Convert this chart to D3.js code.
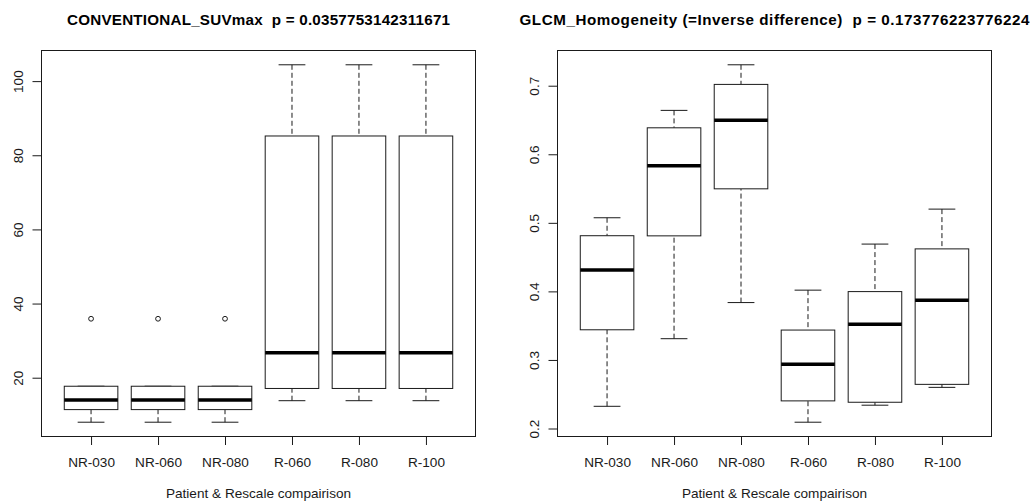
<!DOCTYPE html>
<html>
<head>
<meta charset="utf-8">
<script src="https://cdn.jsdelivr.net/npm/d3@7"></script>
<style>
  html, body { margin: 0; padding: 0; background: #fff; }
  svg { display: block; font-family: "Liberation Sans", Arial, sans-serif; }
  text.title { white-space: pre; }
</style>
</head>
<body>
<svg id="chart" width="1032" height="502"></svg>
<script>
// Groups compared in both panels
const categories = ["NR-030", "NR-060", "NR-080", "R-060", "R-080", "R-100"];

// CONVENTIONAL_SUVmax: whisker ends, quartiles, medians, outliers
const suvLow    = [8.0, 8.0, 8.0, 13.8, 13.8, 13.8];
const suvQ1     = [11.4, 11.4, 11.4, 17.1, 17.1, 17.1];
const suvMedian = [14.0, 14.0, 14.0, 26.7, 26.7, 26.7];
const suvQ3     = [17.7, 17.7, 17.7, 85.2, 85.2, 85.2];
const suvHigh   = [17.7, 17.7, 17.7, 104.4, 104.4, 104.4];
const suvOutliers = [[35.9], [35.9], [35.9], [], [], []];
const suvTicks  = [20, 40, 60, 80, 100];

// GLCM_Homogeneity: whisker ends, quartiles, medians
const glcmLow    = [0.2324, 0.331, 0.3837, 0.2092, 0.234, 0.260];
const glcmQ1     = [0.344, 0.481, 0.5496, 0.2403, 0.2383, 0.2644];
const glcmMedian = [0.4313, 0.5831, 0.6495, 0.2936, 0.3522, 0.3872];
const glcmQ3     = [0.4812, 0.6386, 0.7019, 0.3436, 0.3997, 0.462];
const glcmHigh   = [0.5074, 0.664, 0.7305, 0.4018, 0.469, 0.520];
const glcmOutliers = [[], [], [], [], [], []];
const glcmTicks  = [0.2, 0.3, 0.4, 0.5, 0.6, 0.7];

const suvTitle  = "CONVENTIONAL_SUVmax  p = 0.0357753142311671";
const glcmTitle = "GLCM_Homogeneity (=Inverse difference)  p = 0.173776223776224";
const xTitle    = "Patient & Rescale compairison";

const svg = d3.select("#chart");
const panelWidth = 516;
const plotLeft = 41.5, plotRight = 475.5, plotTop = 50.5, plotBottom = 436.5;
const ink = "#1a1a1a";

function drawPanel(offsetX, low, q1, med, q3, high, outliers, ticks, title, titleWidth, fmt) {
  const g = svg.append("g").attr("transform", `translate(${offsetX},0)`);

  // padded ranges, 4% beyond the data on each side
  const all = low.concat(high, outliers.flat());
  const lo = d3.min(all), hi = d3.max(all), pad = (hi - lo) * 0.04;
  const y = d3.scaleLinear().domain([lo - pad, hi + pad]).range([plotBottom, plotTop]);
  const xPad = categories.length * 0.04;
  const x = d3.scaleLinear().domain([0.5 - xPad, categories.length + 0.5 + xPad]).range([plotLeft, plotRight]);

  const boxW = x(0.8) - x(0), capW = x(0.4) - x(0);

  const boxes = g.selectAll("g.box").data(categories).join("g").attr("class", "box");
  boxes.each(function (c, i) {
    const b = d3.select(this);
    const cx = x(i + 1);
    // whiskers, drawn from the end toward the box
    [[high[i], q3[i]], [low[i], q1[i]]].forEach(([from, to]) => {
      b.append("line").attr("x1", cx).attr("x2", cx).attr("y1", y(from)).attr("y2", y(to))
        .attr("stroke", ink).attr("stroke-width", 1).attr("stroke-dasharray", "5,3");
      b.append("line").attr("x1", cx - capW / 2).attr("x2", cx + capW / 2)
        .attr("y1", y(from)).attr("y2", y(from)).attr("stroke", ink).attr("stroke-width", 1);
    });
    b.append("rect").attr("x", cx - boxW / 2).attr("width", boxW)
      .attr("y", y(q3[i])).attr("height", y(q1[i]) - y(q3[i]))
      .attr("fill", "#fff").attr("stroke", ink).attr("stroke-width", 1);
    b.append("line").attr("x1", cx - boxW / 2).attr("x2", cx + boxW / 2)
      .attr("y1", y(med[i])).attr("y2", y(med[i])).attr("stroke", "#000").attr("stroke-width", 3.5);
    b.selectAll("circle").data(outliers[i]).join("circle")
      .attr("cx", cx).attr("cy", d => y(d)).attr("r", 2.4)
      .attr("fill", "none").attr("stroke", ink).attr("stroke-width", 1);
  });

  // plot frame
  g.append("rect").attr("x", plotLeft).attr("y", plotTop)
    .attr("width", plotRight - plotLeft).attr("height", plotBottom - plotTop)
    .attr("fill", "none").attr("stroke", ink).attr("stroke-width", 1);

  // left axis with rotated labels
  const ya = g.append("g").attr("transform", `translate(${plotLeft},0)`)
    .call(d3.axisLeft(y).tickValues(ticks).tickSize(9).tickFormat(fmt));
  ya.select(".domain").remove();
  ya.selectAll("line").attr("stroke", ink);
  ya.selectAll("text")
    .attr("x", 0).attr("dy", null).attr("y", -18.5)
    .attr("transform", "rotate(-90)")
    .attr("text-anchor", "middle")
    .attr("font-size", 13.6).attr("font-family", "Liberation Sans, Arial, sans-serif")
    .attr("fill", ink);

  // bottom axis
  const xa = g.append("g").attr("transform", `translate(0,${plotBottom})`)
    .call(d3.axisBottom(x).tickValues(d3.range(1, categories.length + 1)).tickSize(8.5)
      .tickFormat(d => categories[d - 1]));
  xa.select(".domain").remove();
  xa.selectAll("line").attr("stroke", ink);
  xa.selectAll("text").attr("y", 30.5).attr("dy", null)
    .attr("font-size", 13.6).attr("font-family", "Liberation Sans, Arial, sans-serif")
    .attr("fill", ink);

  // titles
  const mid = (plotLeft + plotRight) / 2;
  g.append("text").attr("class", "title").attr("x", mid).attr("y", 25).attr("text-anchor", "middle")
    .attr("font-size", 15.2).attr("font-weight", "bold").attr("fill", "#000")
    .attr("textLength", titleWidth).attr("lengthAdjust", "spacing")
    .text(title);
  g.append("text").attr("x", mid).attr("y", 497.5).attr("text-anchor", "middle")
    .attr("font-size", 13.6).attr("fill", ink).text(xTitle);
}

drawPanel(0, suvLow, suvQ1, suvMedian, suvQ3, suvHigh, suvOutliers, suvTicks, suvTitle, 383, d3.format("d"));
drawPanel(panelWidth, glcmLow, glcmQ1, glcmMedian, glcmQ3, glcmHigh, glcmOutliers, glcmTicks, glcmTitle, 510, d3.format(".1f"));
</script>
</body>
</html>
